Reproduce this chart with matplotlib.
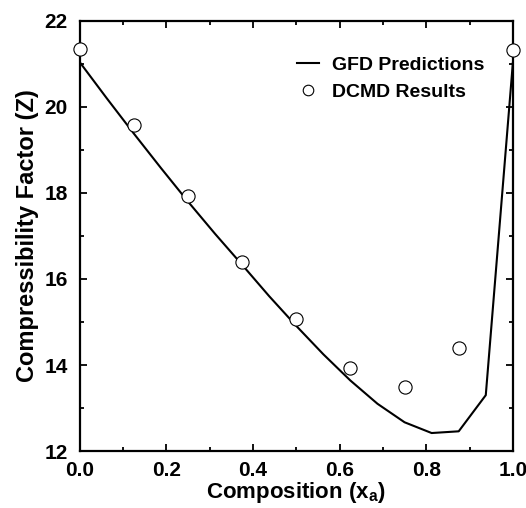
import numpy as np
import matplotlib
matplotlib.use('Agg')
import matplotlib.pyplot as plt
from matplotlib.ticker import MultipleLocator

plt.rcParams['font.family'] = ['Liberation Sans', 'DejaVu Sans']
plt.rcParams['font.weight'] = 'bold'
plt.rcParams['mathtext.fontset'] = 'custom'
plt.rcParams['mathtext.rm'] = 'Liberation Sans:bold'
plt.rcParams['mathtext.it'] = 'Liberation Sans:bold'

# GFD predictions (line)
gfd_x = [0.0, 0.0625, 0.125, 0.1875, 0.25, 0.3125, 0.375, 0.4375, 0.5,
         0.5625, 0.625, 0.6875, 0.75, 0.8125, 0.875, 0.9375, 1.0]
gfd_z = [21.04, 20.20, 19.38, 18.58, 17.80, 17.05, 16.33, 15.60, 14.91,
         14.25, 13.64, 13.10, 12.67, 12.42, 12.46, 13.30, 21.02]

# DCMD results (open circles)
dcmd_x = [0.0, 0.125, 0.25, 0.375, 0.5, 0.625, 0.75, 0.875, 1.0]
dcmd_z = [21.35, 19.57, 17.93, 16.39, 15.08, 13.92, 13.49, 14.40, 21.33]

fig = plt.figure(figsize=(5.26, 5.08), dpi=100)
ax = fig.add_axes([0.1515, 0.112, 0.8235, 0.847])

ax.plot(gfd_x, gfd_z, color='black', lw=1.5, label='GFD Predictions', zorder=2)
ax.plot(dcmd_x, dcmd_z, 'o', ms=9.5, mfc='white', mec='black', mew=0.8,
        label='DCMD Results', clip_on=False, zorder=3)

ax.set_xlim(0, 1)
ax.set_ylim(12, 22)
ax.xaxis.set_major_locator(MultipleLocator(0.2))
ax.xaxis.set_minor_locator(MultipleLocator(0.1))
ax.yaxis.set_major_locator(MultipleLocator(2))
ax.yaxis.set_minor_locator(MultipleLocator(1))
ax.xaxis.set_major_formatter(plt.FormatStrFormatter('%.1f'))

ax.tick_params(which='both', direction='in', top=True, right=True,
               width=1.3, labelsize=15)
ax.tick_params(which='major', length=5)
ax.tick_params(which='minor', length=3)
ax.tick_params(axis='y', which='major', pad=8.5)
ax.tick_params(axis='x', which='major', pad=7)
for s in ax.spines.values():
    s.set_linewidth(1.6)

ax.set_xlabel(r'Composition (x$_\mathregular{a}$)', fontsize=16, fontweight='bold', labelpad=0)
ax.set_ylabel('Compressibility Factor (Z)', fontsize=17, fontweight='bold', labelpad=4)

ax.legend(loc='upper left', bbox_to_anchor=(0.502, 0.917), frameon=False,
          fontsize=14, handlelength=1.1, handletextpad=0.7, labelspacing=0.45,
          borderaxespad=0, borderpad=0, markerscale=0.8)

fig.savefig('out.png', dpi=100)
